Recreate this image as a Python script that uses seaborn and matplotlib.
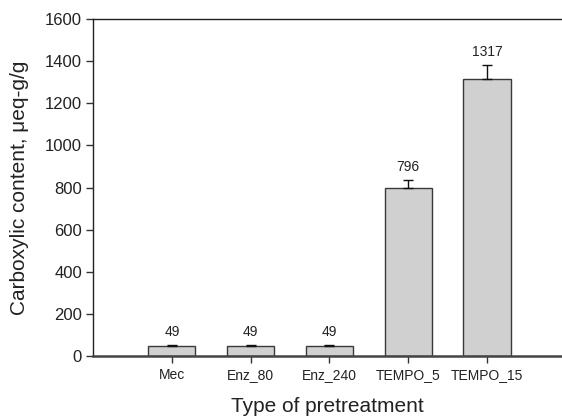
import matplotlib
matplotlib.use("Agg")
import matplotlib.pyplot as plt
import seaborn as sns
import pandas as pd
import numpy as np

categories = ["Mec", "Enz_80", "Enz_240", "TEMPO_5", "TEMPO_15"]
values = [49, 49, 49, 796, 1317]
errors = [2, 2, 2, 40, 66]
labels = ["49", "49", "49", "796", "1317"]
yticks = [0, 200, 400, 600, 800, 1000, 1200, 1400, 1600]

sns.set_style("ticks")
plt.rcParams['font.family'] = ['Liberation Sans', 'DejaVu Sans']

df = pd.DataFrame({"type": categories, "value": values})

fig = plt.figure(figsize=(5.62, 4.16), dpi=100)
ax = fig.add_axes([0.1655, 0.1442, 0.8345, 0.8101])

sns.barplot(data=df, x="type", y="value", order=categories, errorbar=None,
            color="#d0d0d0", edgecolor="#3a3a3a", linewidth=1.0, width=0.6,
            saturation=1, ax=ax)
for p in ax.patches:
    p.set_facecolor("#d0d0d0")

xpos = np.arange(len(categories))
ax.errorbar(xpos, values, yerr=[np.zeros(len(values)), errors], fmt="none",
            ecolor="#111111", elinewidth=1.0, capsize=3.5, capthick=1.0)

for x, v, e, t in zip(xpos, values, errors, labels):
    ax.annotate(t, (x, v + e), xytext=(0, 9), textcoords="offset pixels",
                ha="center", va="baseline", fontsize=10, color="#222222")

ax.set_xlim(-1, 4.95)
ax.set_ylim(0, 1600)
ax.set_yticks(yticks)
ax.tick_params(axis="y", labelsize=12, direction="out", length=5, width=1, color="#333333", labelcolor="#222222", pad=3)
ax.tick_params(axis="x", labelsize=10, direction="out", length=5, width=1, color="#333333", labelcolor="#222222")
ax.set_xlabel("Type of pretreatment", fontsize=15, labelpad=11, color="#222222")
ax.set_ylabel("Carboxylic content, \u03bceq-g/g", fontsize=15, labelpad=11, color="#222222")

for s in ["left", "top"]:
    ax.spines[s].set_visible(True)
    ax.spines[s].set_color("#222222")
    ax.spines[s].set_linewidth(1.0)
ax.spines["bottom"].set_color("#444444")
ax.spines["bottom"].set_linewidth(1.8)
ax.spines["right"].set_visible(False)

fig.savefig("out.png", dpi=100)
